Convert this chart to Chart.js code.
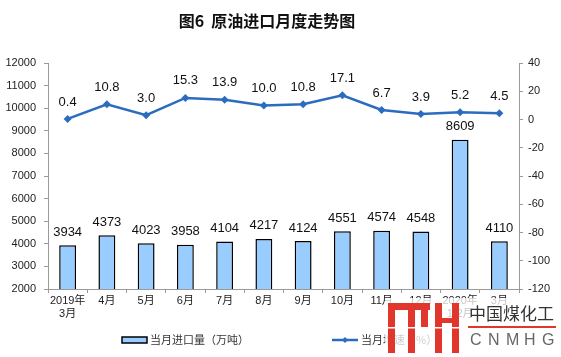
<!DOCTYPE html>
<html>
<head>
<meta charset="utf-8">
<script src="https://cdn.jsdelivr.net/npm/chart.js@4.4.1/dist/chart.umd.min.js"></script>
<style>
  html, body { margin: 0; padding: 0; background: #fff; }
  #wrap { width: 561px; height: 357px; position: relative; }
</style>
</head>
<body>
<div id="wrap"><canvas id="myChart" width="561" height="357"></canvas></div>
<script>
// chart data
const labels = [['2019年', '3月'], '4月', '5月', '6月', '7月', '8月', '9月', '10月', '11月', '12月', ['2020年', '1-2月'], '3月'];
const importVolume = [3934, 4373, 4023, 3958, 4104, 4217, 4124, 4551, 4574, 4548, 8609, 4110];
const growthRate = [0.4, 10.8, 3.0, 15.3, 13.9, 10.0, 10.8, 17.1, 6.7, 3.9, 5.2, 4.5];

const titleText = '图6  原油进口月度走势图';
const barLegend = '当月进口量（万吨）';
const lineLegend = '当月增速（%）';

const numFont = "'Liberation Sans', Arial, sans-serif";
const cjkFont = "'Liberation Sans', 'Noto Sans CJK SC', sans-serif";
const lineColor = '#2b6cbf';
const barColor = '#99ccff';
const axisColor = '#9a9a9a';

// draws title, value labels, legend and the watermark
const extras = {
  id: 'extras',
  afterDatasetsDraw(chart) {
    const ctx = chart.ctx;
    ctx.save();
    ctx.fillStyle = '#111';
    ctx.font = '13px ' + numFont;
    ctx.textAlign = 'center';
    ctx.textBaseline = 'middle';
    chart.getDatasetMeta(1).data.forEach((bar, i) => {
      ctx.fillText(String(importVolume[i]), bar.x, bar.y - 13);
    });
    chart.getDatasetMeta(0).data.forEach((pt, i) => {
      ctx.fillText(growthRate[i].toFixed(1), pt.x, pt.y - 17);
    });
    ctx.restore();
  },
  afterDraw(chart) {
    const ctx = chart.ctx;
    ctx.save();
    // title
    ctx.fillStyle = '#111';
    ctx.font = "bold 16px 'Noto Sans CJK SC', sans-serif";
    ctx.textAlign = 'center';
    ctx.textBaseline = 'middle';
    ctx.fillText(titleText, 267, 21);

    // legend
    ctx.textAlign = 'left';
    ctx.font = "11px 'Noto Sans CJK SC', sans-serif";
    ctx.fillStyle = barColor;
    ctx.fillRect(122, 337, 25, 6);
    ctx.strokeStyle = '#000';
    ctx.lineWidth = 1.5;
    ctx.strokeRect(122, 337, 25, 6);
    ctx.fillStyle = '#333';
    ctx.fillText(barLegend, 150, 340);

    ctx.strokeStyle = lineColor;
    ctx.lineWidth = 2.5;
    ctx.beginPath();
    ctx.moveTo(332, 340);
    ctx.lineTo(358, 340);
    ctx.stroke();
    ctx.fillStyle = lineColor;
    ctx.beginPath();
    ctx.moveTo(345, 337); ctx.lineTo(348, 340); ctx.lineTo(345, 343); ctx.lineTo(342, 340);
    ctx.closePath();
    ctx.fill();
    ctx.fillStyle = '#333';
    ctx.fillText(lineLegend, 361, 340);

    // watermark
    ctx.fillStyle = 'rgba(255,255,255,0.75)';
    ctx.fillRect(385, 298, 176, 59);
    ctx.fillStyle = '#e0362c';
    ctx.fillRect(388, 303, 7, 50);
    ctx.fillRect(388, 303, 42, 7);
    ctx.fillRect(408, 303, 7, 50);
    ctx.fillRect(421, 303, 7, 24);
    ctx.fillRect(435, 303, 7, 50);
    ctx.fillRect(452, 303, 7, 50);
    ctx.fillRect(442, 318, 10, 5);
    ctx.fillStyle = '#fff';
    ctx.fillRect(386, 327, 75, 1.5);
    ctx.fillStyle = '#e0362c';
    ctx.fillRect(468, 326, 88, 2);
    ctx.fillStyle = '#333';
    ctx.font = "17px 'Noto Sans CJK SC', sans-serif";
    ctx.fillText('中国煤化工', 469, 314);
    ctx.fillStyle = '#666';
    ctx.font = "16px 'Liberation Sans', sans-serif";
    ['C', 'N', 'M', 'H', 'G'].forEach((c, i) => {
      ctx.fillText(c, 470 + i * 18, 341);
    });
    ctx.restore();
  }
};

const data = {
  labels: labels,
  datasets: [{
    type: 'line',
    label: lineLegend,
    data: growthRate,
    yAxisID: 'y1',
    borderColor: lineColor,
    backgroundColor: lineColor,
    borderWidth: 2.5,
    pointStyle: 'rectRot',
    pointRadius: 4,
    pointBorderWidth: 0,
    tension: 0,
    order: 0
  },
  {
    type: 'bar',
    label: barLegend,
    data: importVolume,
    yAxisID: 'y',
    backgroundColor: barColor,
    borderColor: '#000',
    borderWidth: 1.5,
    barPercentage: 0.43,
    categoryPercentage: 1,
    order: 1
  }]
};

const config = {
  data,
  options: {
    responsive: false,
    animation: false,
    layout: { padding: { top: 63, left: 0, right: 0, bottom: 0 } },
    plugins: {
      legend: { display: false },
      title: { display: false },
      tooltip: { enabled: false }
    },
    scales: {
      x: {
        grid: { drawOnChartArea: false, tickLength: 4, color: axisColor },
        border: { color: axisColor },
        ticks: {
          color: '#222',
          font: { family: cjkFont, size: 11, lineHeight: 1.15 },
          padding: 2,
          maxRotation: 0,
          autoSkip: false
        },
        afterFit(scale) { scale.height = 68; }
      },
      y: {
        position: 'left',
        min: 2000,
        max: 12000,
        grid: { drawOnChartArea: false, tickLength: 4, color: axisColor },
        border: { color: axisColor },
        ticks: {
          stepSize: 1000,
          color: '#222',
          font: { family: numFont, size: 11 },
          padding: 8,
          callback: (value) => String(value)
        },
        afterFit(scale) { scale.width = 48; }
      },
      y1: {
        position: 'right',
        min: -120,
        max: 40,
        grid: { drawOnChartArea: false, tickLength: 4, color: axisColor },
        border: { color: axisColor },
        ticks: {
          stepSize: 20,
          color: '#222',
          font: { family: numFont, size: 11 },
          padding: 5,
          callback: (value) => String(value)
        },
        afterFit(scale) { scale.width = 42; }
      }
    }
  },
  plugins: [extras]
};

const myChart = new Chart(
  document.getElementById('myChart').getContext('2d'),
  config
);
</script>
</body>
</html>
